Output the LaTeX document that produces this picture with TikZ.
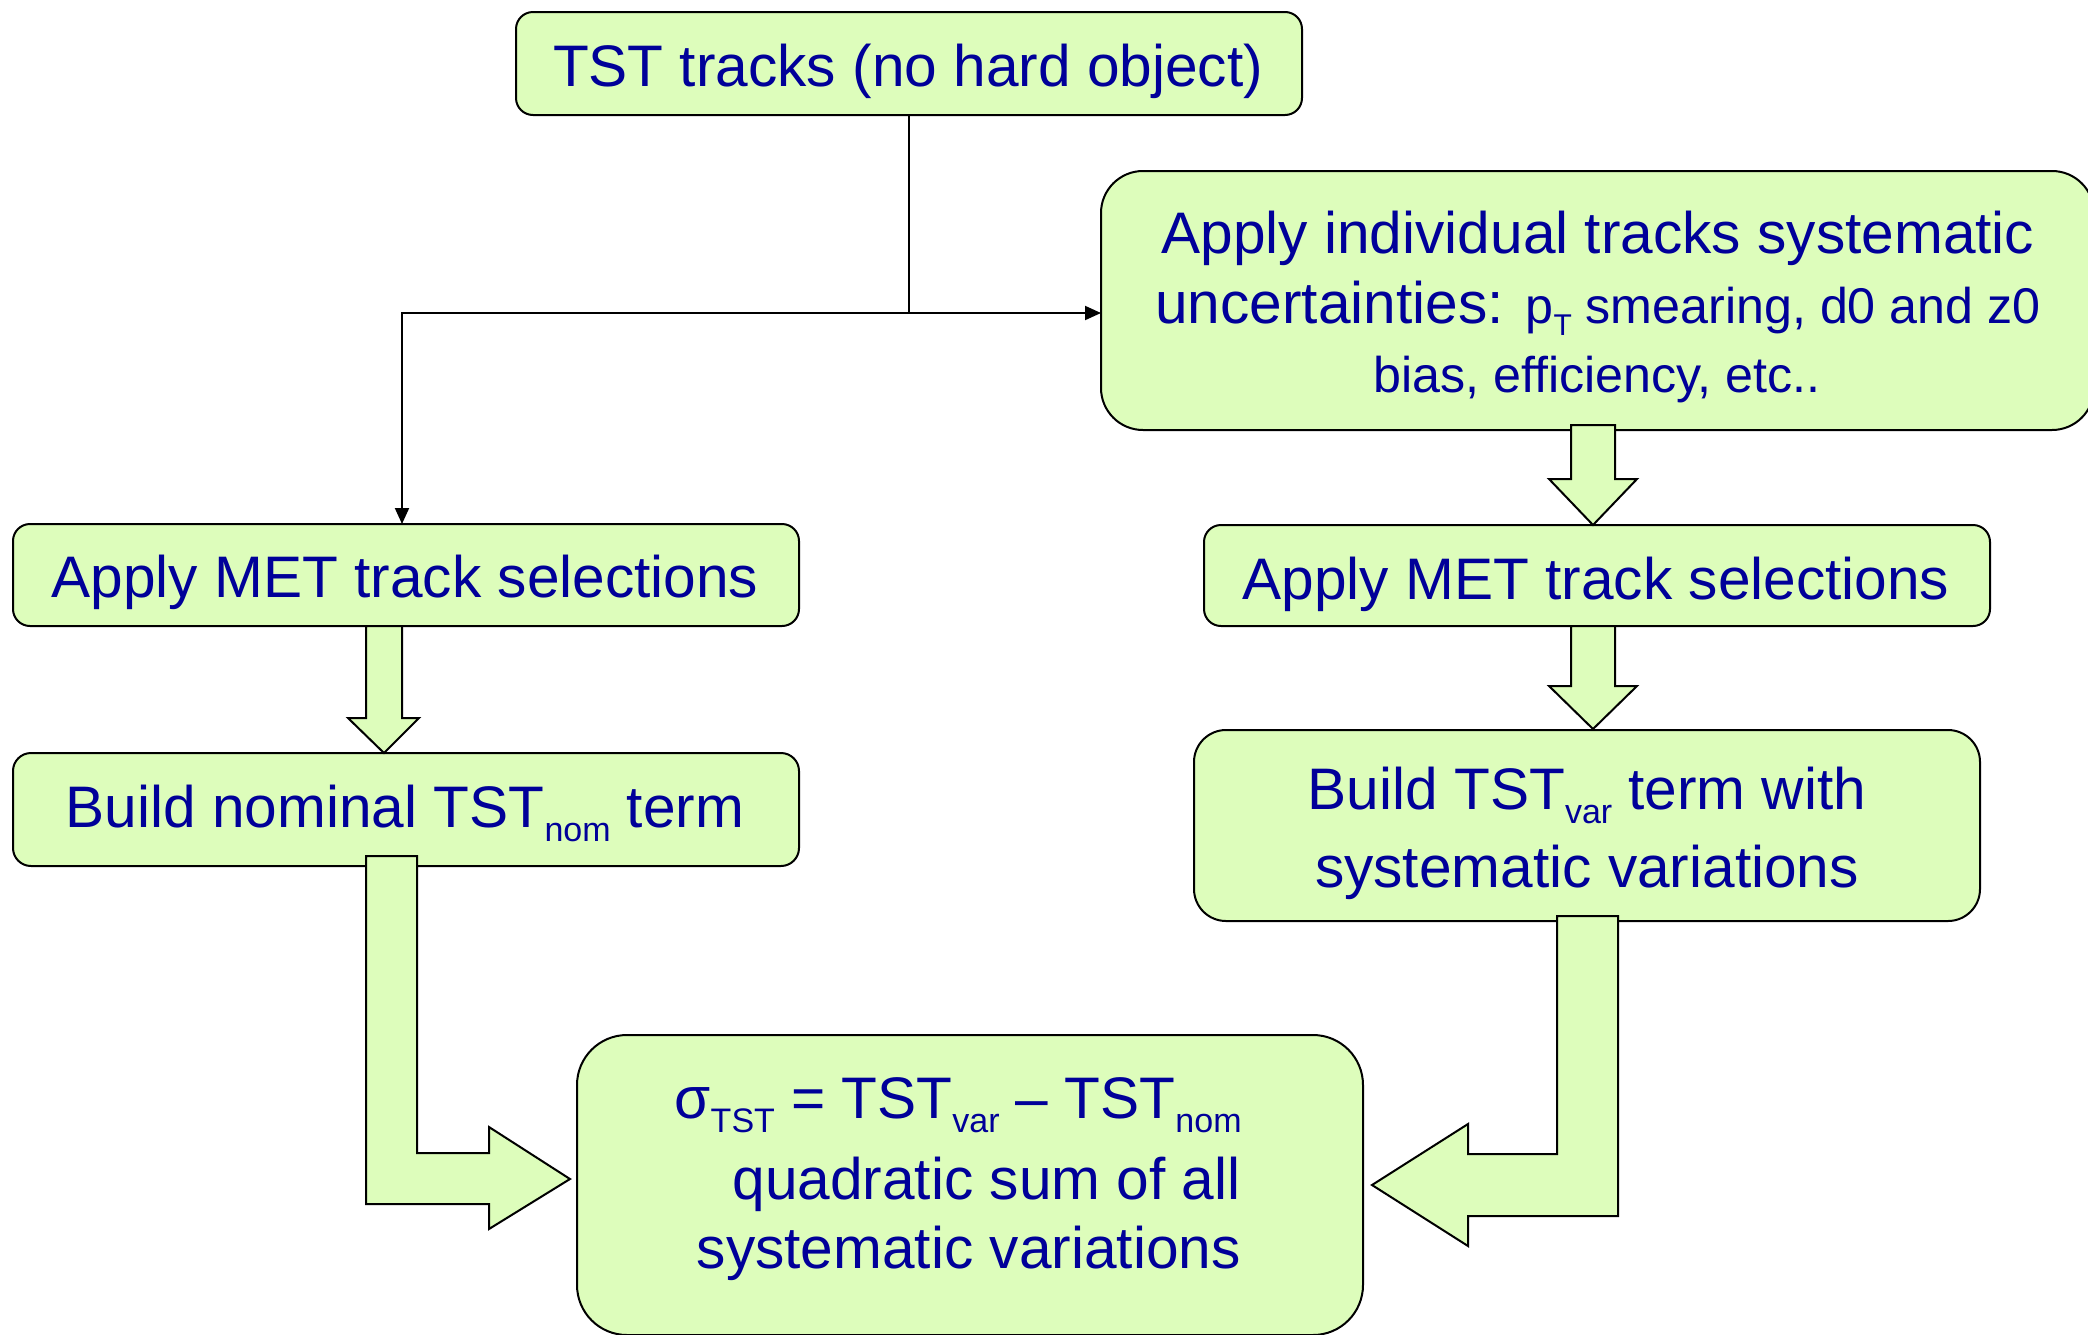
\documentclass[tikz,border=0pt]{standalone}
\usepackage{fontspec}
\setmainfont{Liberation Sans}
\usetikzlibrary{arrows.meta,calc}
\definecolor{boxfill}{RGB}{221,253,187}
\definecolor{txtblue}{RGB}{0,0,153}
\newcommand\subsm[1]{\raisebox{-7pt}{\fontsize{17pt}{17pt}\selectfont #1}}
\newcommand\smalltxt{\fontsize{25.1pt}{30pt}\selectfont}
\begin{document}
\begin{tikzpicture}[x=0.5pt,y=-0.5pt,
  box/.style={draw=black,line width=1pt,fill=boxfill,inner sep=0pt,outer sep=0pt},
  txt/.style={anchor=base,inner sep=0pt,text=txtblue,font=\fontsize{29.3pt}{34pt}\selectfont},
  txtr/.style={txt,anchor=base east},
  blk/.style={draw=black,line width=1pt,fill=boxfill,line join=miter},
  conn/.style={draw=black,line width=1pt,-{Triangle[length=8pt,width=7pt]}}]
\useasboundingbox (0,0) rectangle (2088,1334);
\clip (0,0) rectangle (2088,1334);

% boxes
\node[box,rounded corners=8.5pt,minimum width=393pt,minimum height=51.5pt] (b1) at (909,63.5) {};
\node[box,rounded corners=21pt,minimum width=496.5pt,minimum height=129.5pt] (b2) at (1597.5,300.5) {};
\node[box,rounded corners=8.5pt,minimum width=393pt,minimum height=51pt] (b3) at (406,575) {};
\node[box,rounded corners=9pt,minimum width=393pt,minimum height=56.5pt] (b4) at (406,809.5) {};
\node[box,rounded corners=8.5pt,minimum width=393pt,minimum height=50.5pt] (b6) at (1597,575.5) {};
\node[box,rounded corners=16pt,minimum width=393pt,minimum height=95.5pt] (b7) at (1587,825.5) {};
\node[box,rounded corners=25pt,minimum width=393pt,minimum height=150pt] (b5) at (970,1185) {};

% thin connectors
\coordinate (jl) at (402,313);
\draw[line width=1pt] (b1.south) -- (b1.south |- jl) coordinate (jm);
\draw[conn] (jm) -- (jm -| b2.west);
\draw[conn] (jm) -- (jl) -- (jl |- b3.north);

% block arrows
\draw[blk] (366,626) -- (402,626) -- (402,718) -- (419,718) -- (384,753) -- (348,718) -- (366,718) -- cycle;
\draw[blk] (1571,425) -- (1615,425) -- (1615,479) -- (1637,479) -- (1593,525) -- (1549,479) -- (1571,479) -- cycle;
\draw[blk] (1571,626) -- (1615,626) -- (1615,686) -- (1637,686) -- (1593,729) -- (1549,686) -- (1571,686) -- cycle;
\draw[blk] (366,856) -- (417,856) -- (417,1153) -- (489,1153) -- (489,1127) -- (570,1179) -- (489,1229) -- (489,1204) -- (366,1204) -- cycle;
\draw[blk] (1557,916) -- (1618,916) -- (1618,1216) -- (1468,1216) -- (1468,1246) -- (1372,1185) -- (1468,1124) -- (1468,1154) -- (1557,1154) -- cycle;

% texts
\node[txt] (t1) at (908,86) {TST tracks (no hard object)};
\node[txt] (t2a) at (1598,253) {Apply individual tracks systematic};
\node[txt] (t2b) at (1598,323) {uncertainties: {\smalltxt p\raisebox{-6pt}{\fontsize{15pt}{15pt}\selectfont T} smearing, d0 and z0}};
\node[txt] (t2c) at (1597,392) {\smalltxt bias, efficiency, etc..};
\node[txt] (t3) at (405,597) {Apply MET track selections};
\node[txt] (t6) at (1596,599) {Apply MET track selections};
\node[txt] (t4) at (405,827) {Build nominal TST\subsm{nom} term};
\node[txt] (t7a) at (1587,809) {Build TST\subsm{var} term with};
\node[txt] (t7b) at (1587,887) {systematic variations};
\node[txtr] (t5a) at (1242,1118) {σ\subsm{TST} = TST\subsm{var} – TST\subsm{nom}};
\node[txtr] (t5b) at (1241,1199) {quadratic sum of all};
\node[txtr] (t5c) at (1241,1268) {systematic variations};
\end{tikzpicture}
\end{document}
